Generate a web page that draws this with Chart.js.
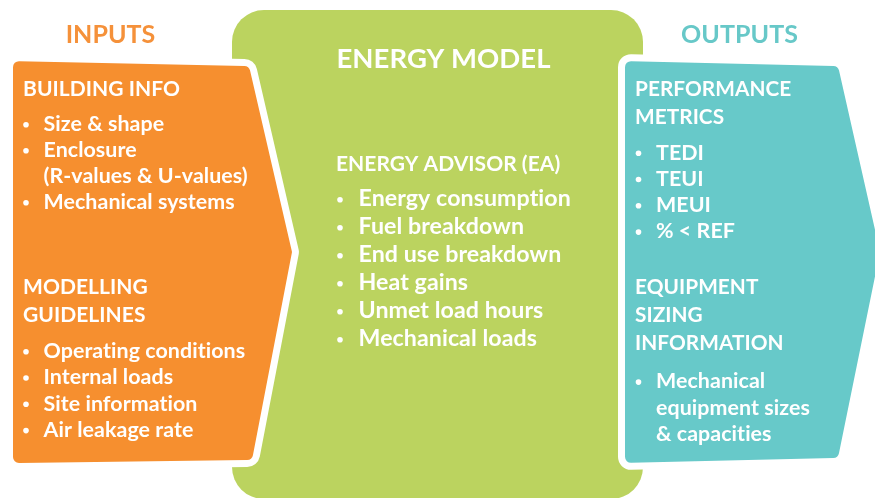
<!DOCTYPE html>
<html><head><meta charset="utf-8">
<script src="https://cdn.jsdelivr.net/npm/chart.js@4.4.1/dist/chart.umd.min.js"></script>
<style>html,body{margin:0;padding:0;background:#fff;overflow:hidden}canvas{display:block}</style>
</head><body>
<canvas id="c" width="875" height="498"></canvas>
<script>
// ---- content ----
const columnTitles = ['INPUTS', 'ENERGY MODEL', 'OUTPUTS'];
const buildingInfoHeading = ['BUILDING INFO'];
const buildingInfoItems = [['Size & shape'], ['Enclosure', '(R-values & U-values)'], ['Mechanical systems']];
const guidelinesHeading = ['MODELLING', 'GUIDELINES'];
const guidelinesItems = [['Operating conditions'], ['Internal loads'], ['Site information'], ['Air leakage rate']];
const advisorHeading = ['ENERGY ADVISOR (EA)'];
const advisorItems = [['Energy consumption'], ['Fuel breakdown'], ['End use breakdown'], ['Heat gains'], ['Unmet load hours'], ['Mechanical loads']];
const metricsHeading = ['PERFORMANCE', 'METRICS'];
const metricsItems = [['TEDI'], ['TEUI'], ['MEUI'], ['% < REF']];
const sizingHeading = ['EQUIPMENT', 'SIZING', 'INFORMATION'];
const sizingItems = [['Mechanical', 'equipment sizes', '& capacities']];

const COLORS = { orange: '#F68F2F', green: '#BBD35F', teal: '#67C9C9', white: '#FFFFFF' };
const FONT = 'Lato, "Open Sans", sans-serif';

function roundedPoly(ctx, pts, radii) {
  const n = pts.length;
  ctx.beginPath();
  const last = pts[n - 1], first = pts[0];
  ctx.moveTo((last[0] + first[0]) / 2, (last[1] + first[1]) / 2);
  for (let i = 0; i < n; i++) {
    const p = pts[i], q = pts[(i + 1) % n];
    ctx.arcTo(p[0], p[1], q[0], q[1], radii[i]);
  }
  ctx.closePath();
}

function drawText(ctx, str, x, y, size, sx, align) {
  ctx.save();
  ctx.font = 'bold ' + size + 'px ' + FONT;
  if ('letterSpacing' in ctx) ctx.letterSpacing = '0.05px'; // avoids Lato's "ti" ligature
  ctx.textBaseline = 'alphabetic';
  ctx.textAlign = 'left';
  const w = ctx.measureText(str).width * sx;
  let x0 = x;
  if (align === 'center') x0 = x - w / 2;
  ctx.translate(x0, y);
  ctx.scale(sx, 1);
  ctx.fillText(str, 0, 0);
  ctx.restore();
}

function drawBlock(ctx, P, heading, items, o) {
  ctx.fillStyle = COLORS.white;
  let y = o.y;
  heading.forEach((line, i) => {
    drawText(ctx, line, P.x(o.hx), P.y(y), o.hSize, o.hsx);
    if (i < heading.length - 1) y += o.hLine;
  });
  y += o.gap;
  items.forEach(item => {
    ctx.beginPath();
    ctx.arc(P.x(o.bx), P.y(y - 6.3), o.br, 0, Math.PI * 2);
    ctx.fill();
    item.forEach(line => {
      drawText(ctx, line, P.x(o.tx), P.y(y), o.iSize, o.isx);
      y += o.iLine;
    });
  });
}

const diagramPlugin = {
  id: 'diagram',
  beforeDraw(chart) {
    const ctx = chart.ctx;
    const sx = chart.scales.x, sy = chart.scales.y;
    const P = { x: v => sx.getPixelForValue(v), y: v => sy.getPixelForValue(v) };
    const pts = arr => arr.map(p => [P.x(p[0]), P.y(p[1])]);
    ctx.save();
    ctx.fillStyle = '#fff';
    ctx.fillRect(0, 0, chart.width, chart.height);
    // green center panel
    ctx.fillStyle = COLORS.green;
    roundedPoly(ctx, pts([[232, 10], [643, 10], [643, 499], [232, 499]]), [32, 32, 32, 32]);
    ctx.fill();
    // orange input arrow and teal output arrow
    const orange = pts([[13, 61], [249, 66], [292, 252], [252, 460], [13, 463]]);
    const teal = pts([[625, 61], [838, 66], [880, 252], [838, 458], [625, 463]]);
    [[orange, COLORS.orange], [teal, COLORS.teal]].forEach(([shape, col]) => {
      roundedPoly(ctx, shape, [6, 6, 2, 6, 6]);
      ctx.lineJoin = 'round';
      ctx.lineWidth = 14;
      ctx.strokeStyle = COLORS.white;
      ctx.stroke();
      ctx.fillStyle = col;
      ctx.fill();
    });
    ctx.restore();
  },
  afterDraw(chart) {
    const ctx = chart.ctx;
    const sx = chart.scales.x, sy = chart.scales.y;
    const P = { x: v => sx.getPixelForValue(v), y: v => sy.getPixelForValue(v) };
    ctx.save();
    // column titles
    ctx.fillStyle = '#F5913A';
    drawText(ctx, columnTitles[0], P.x(110.5), P.y(43.3), 25, 1, 'center');
    ctx.fillStyle = COLORS.white;
    drawText(ctx, columnTitles[1], P.x(443.5), P.y(68), 27.5, 1, 'center');
    ctx.fillStyle = '#67C8C8';
    drawText(ctx, columnTitles[2], P.x(739.5), P.y(42.7), 25, 1, 'center');

    const left = { hx: 23, bx: 26, tx: 43.5, br: 2.8, hSize: 21, hsx: 1, iSize: 21, isx: 1.02 };
    drawBlock(ctx, P, buildingInfoHeading, buildingInfoItems, Object.assign({}, left, { y: 96, hLine: 28, gap: 35, iLine: 26 }));
    drawBlock(ctx, P, guidelinesHeading, guidelinesItems, Object.assign({}, left, { y: 294, hLine: 28, gap: 36, iLine: 26.3 }));

    drawBlock(ctx, P, advisorHeading, advisorItems, { hx: 336, bx: 340, tx: 358.5, br: 2.8, hSize: 21, hsx: 1, iSize: 22, isx: 1.055, y: 170.5, hLine: 28, gap: 35.5, iLine: 28 });

    const right = { hx: 635, bx: 638.5, tx: 656, br: 2.8, hSize: 21, hsx: 0.99, iSize: 21, isx: 1.02 };
    drawBlock(ctx, P, metricsHeading, metricsItems, Object.assign({}, right, { y: 96, hLine: 27.5, gap: 36, iLine: 26.3 }));
    drawBlock(ctx, P, sizingHeading, sizingItems, Object.assign({}, right, { y: 294.3, hLine: 27.8, gap: 38.5, iLine: 26.3 }));
    ctx.restore();
  }
};

new Chart(document.getElementById('c'), {
  type: 'scatter',
  data: { datasets: [] },
  options: {
    responsive: false,
    animation: false,
    events: [],
    layout: { padding: 0 },
    plugins: { legend: { display: false }, tooltip: { enabled: false } },
    scales: {
      x: { type: 'linear', min: 0, max: 875, display: false },
      y: { type: 'linear', min: 0, max: 498, reverse: true, display: false }
    }
  },
  plugins: [diagramPlugin]
});
</script>
</body></html>
